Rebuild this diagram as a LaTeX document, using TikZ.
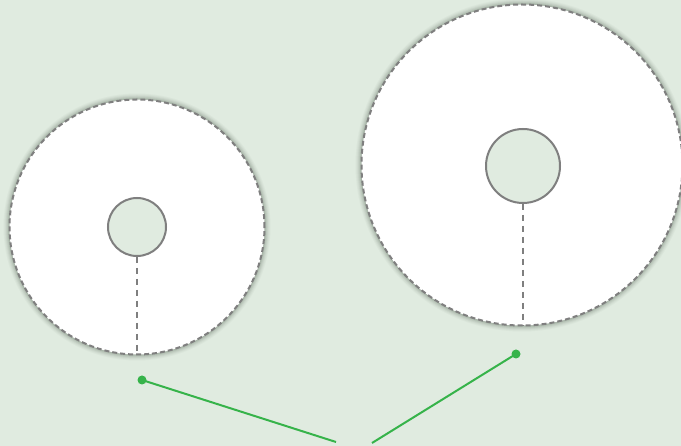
\documentclass[tikz,border=0pt]{standalone}
\usepackage{xcolor}
\usepackage{tikz}
\usetikzlibrary{calc}
\definecolor{bgMint}{HTML}{E0EBE0}
\definecolor{rimGr}{HTML}{7F7F7F}
\definecolor{cLeaf}{HTML}{36B34A}
\definecolor{shadK}{HTML}{5A6A5A}

\begin{document}
\begin{tikzpicture}[x=1pt,y=-1pt,
    disk/.style={circle, draw=rimGr, fill=white, line width=2pt,
                 dash pattern=on 5pt off 3pt, inner sep=0pt},
    hole/.style={circle, draw=rimGr, fill=bgMint, line width=2pt, inner sep=0pt},
    radius line/.style={draw=rimGr, line width=2pt, dash pattern=on 6pt off 5pt},
    pin/.style={circle, fill=cLeaf, inner sep=0pt, minimum size=9pt},
    leader/.style={draw=cLeaf, line width=2pt}]
  \fill[bgMint] (0,0) rectangle (681,446);
  \useasboundingbox (0,0) rectangle (681,446);
  % soft halo round the disks
  \foreach \cx/\cy/\r in {137/227/127.5, 522/165/160.5}{
    \foreach \d/\o in {6/0.04, 5/0.05, 4/0.07, 3/0.09, 2/0.11, 1/0.13}
      \fill[shadK, opacity=\o] (\cx,\cy) circle[radius=\r+\d];
  }
  \node[disk, minimum size=255pt] (smallDisk) at (137,227) {};
  \node[disk, minimum size=321pt] (bigDisk) at (522,165) {};
  \node[hole, minimum size=58pt] (smallHole) at (137,227) {};
  \node[hole, minimum size=74pt] (bigHole) at (523,166) {};
  \draw[radius line] (smallHole.south) -- (smallDisk.south);
  \draw[radius line] (bigHole.south) -- (bigHole.south |- bigDisk.south);
  % green pointers
  \node[pin] (leftPin) at (142,380) {};
  \node[pin] (rightPin) at (516,354) {};
  \coordinate (leftEnd) at (336,442);
  \coordinate (rightEnd) at (372,443);
  \draw[leader] (leftPin.center) -- (leftEnd);
  \draw[leader] (rightPin.center) -- (rightEnd);
\end{tikzpicture}
\end{document}
